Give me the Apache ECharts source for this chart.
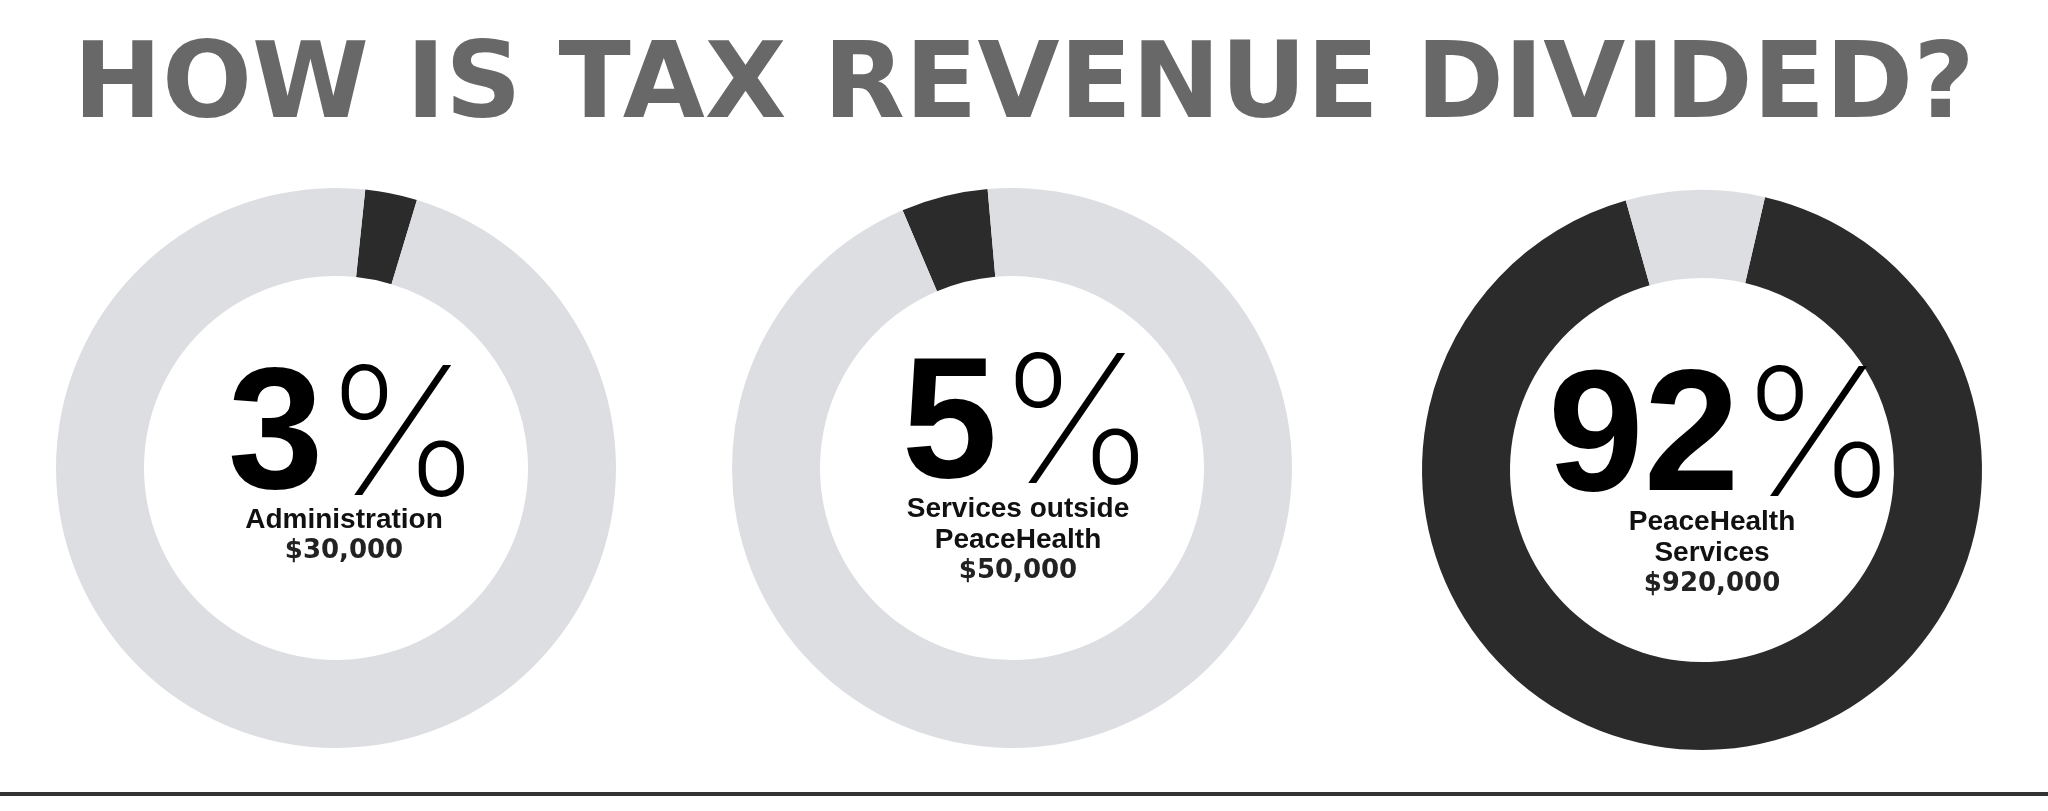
<!DOCTYPE html>
<html>
<head>
<meta charset="utf-8">
<script src="https://cdn.jsdelivr.net/npm/echarts@6/dist/echarts.min.js"></script>
<style>
html,body{margin:0;padding:0;background:#fff;}
#c{width:2048px;height:811px;}
</style>
</head>
<body>
<div id="c"></div>
<script>
// ---- data ----
const titleText = 'HOW IS TAX REVENUE DIVIDED?';
const categories = ['Administration', 'Services outside PeaceHealth', 'PeaceHealth Services'];
const labelLines = [['Administration'], ['Services outside', 'PeaceHealth'], ['PeaceHealth', 'Services']];
const percents = [3, 5, 92];
const amounts = [30000, 50000, 920000];

// ---- layout / style ----
const centers = [[336, 468], [1012, 468], [1702, 470]];
const startAngles = [84, 113, 77];
const labelOffsets = [[8, 4], [6, 8], [10, 19]];
const DARK = '#2b2b2b', LIGHT = '#dcdee1';

function money(v) { return '$' + v.toLocaleString('en-US'); }

const series = categories.map((cat, i) => {
  const lines = labelLines[i].map(l => '{lbl|' + l + '}').join('\n');
  return {
    type: 'pie',
    center: centers[i],
    radius: [192, 280],
    startAngle: startAngles[i],
    clockwise: true,
    silent: true,
    avoidLabelOverlap: false,
    labelLine: { show: false },
    data: [
      {
        name: cat, value: percents[i],
        itemStyle: { color: DARK },
        label: {
          show: true, position: 'center', offset: labelOffsets[i],
          formatter: '{num|' + percents[i] + '}{pct|%}\n' + lines + '\n{amt|' + money(amounts[i]) + '}',
          rich: {
            num: { fontFamily: '"Liberation Sans", Arial', fontWeight: 'bold', fontSize: 172, color: '#000', lineHeight: 128, padding: [0, 0, 0, 22] },
            pct: { fontFamily: 'Inter, "Noto Sans", sans-serif', fontWeight: 200, fontSize: 178, color: '#000', lineHeight: 128 },
            lbl: { fontFamily: '"Liberation Sans", Arial', fontWeight: 'bold', fontSize: 28, color: '#111', lineHeight: 31 },
            amt: { fontFamily: '"DejaVu Sans"', fontWeight: 'bold', fontSize: 26, color: '#222', lineHeight: 31 }
          }
        }
      },
      { name: 'other', value: 100 - percents[i], itemStyle: { color: LIGHT }, label: { show: false } }
    ]
  };
});

const chart = echarts.init(document.getElementById('c'), null, { renderer: 'canvas' });
chart.setOption({
  backgroundColor: '#fff',
  animation: false,
  title: {
    text: titleText,
    left: 'center',
    top: 31,
    textStyle: { fontFamily: '"DejaVu Sans"', fontWeight: 'bold', fontSize: 106, color: '#686868' }
  },
  graphic: [{
    type: 'rect',
    shape: { x: 0, y: 792, width: 2048, height: 4 },
    style: { fill: '#333' },
    silent: true
  }],
  series: series
});
</script>
</body>
</html>
